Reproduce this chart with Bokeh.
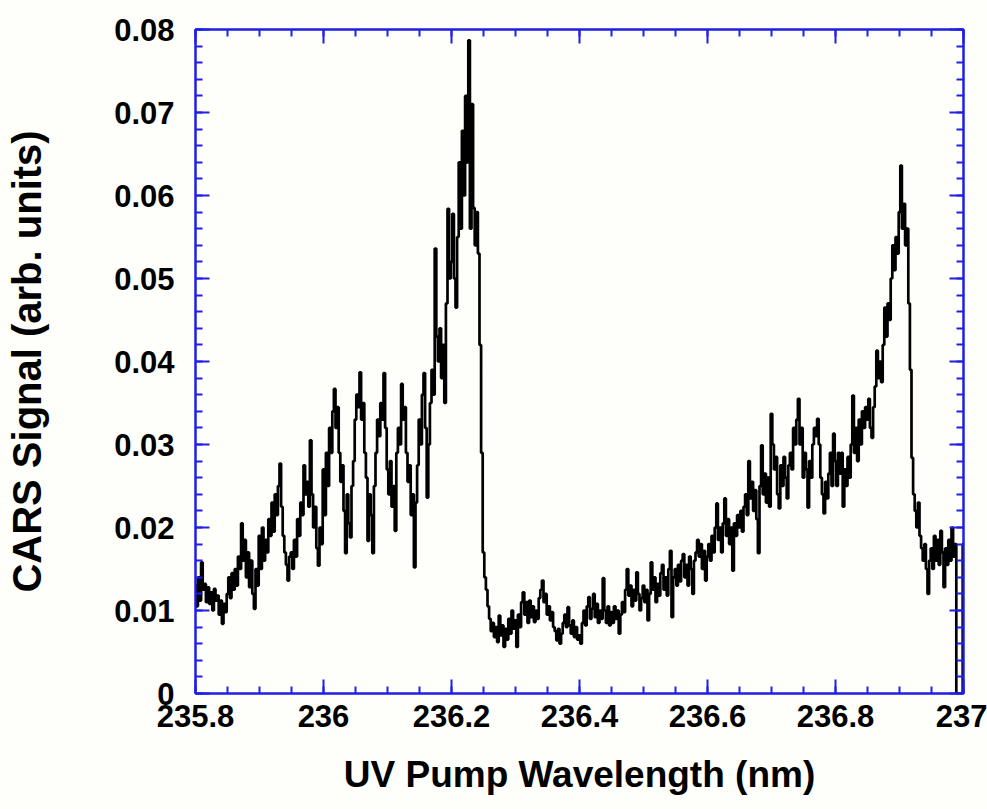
import numpy as np
from bokeh.plotting import figure
from bokeh.models import (Range1d, FixedTicker, LinearAxis, CustomJSTickFormatter)
from bokeh.embed import file_html
from bokeh.resources import INLINE

# CARS signal (arb. units), sampled uniformly from 235.8 nm to 237.0 nm
signal = [
    0.0130, 0.0105, 0.0140, 0.0112, 0.0158, 0.0125, 0.0132, 0.0110, 0.0128, 0.0108, 0.0122, 0.0100, 0.0126, 0.0112, 0.0118, 0.0095, 0.0112, 0.0084, 0.0108, 0.0098,
    0.0120, 0.0140, 0.0115, 0.0145, 0.0125, 0.0150, 0.0130, 0.0165, 0.0150, 0.0205, 0.0160, 0.0185, 0.0140, 0.0170, 0.0128, 0.0160, 0.0120, 0.0102, 0.0150, 0.0130,
    0.0190, 0.0150, 0.0200, 0.0160, 0.0185, 0.0170, 0.0210, 0.0190, 0.0230, 0.0195, 0.0240, 0.0215, 0.0250, 0.0277, 0.0225, 0.0190, 0.0170, 0.0155, 0.0136, 0.0165,
    0.0170, 0.0150, 0.0185, 0.0165, 0.0210, 0.0190, 0.0230, 0.0215, 0.0275, 0.0240, 0.0255, 0.0225, 0.0305, 0.0240, 0.0200, 0.0225, 0.0175, 0.0154, 0.0200, 0.0180,
    0.0270, 0.0215, 0.0290, 0.0250, 0.0320, 0.0290, 0.0340, 0.0367, 0.0320, 0.0345, 0.0290, 0.0255, 0.0275, 0.0220, 0.0169, 0.0240, 0.0205, 0.0188, 0.0250, 0.0280,
    0.0330, 0.0360, 0.0345, 0.0387, 0.0330, 0.0350, 0.0290, 0.0260, 0.0184, 0.0240, 0.0215, 0.0169, 0.0250, 0.0290, 0.0330, 0.0310, 0.0350, 0.0330, 0.0386, 0.0320,
    0.0270, 0.0240, 0.0280, 0.0225, 0.0250, 0.0196, 0.0290, 0.0320, 0.0300, 0.0373, 0.0330, 0.0345, 0.0290, 0.0255, 0.0275, 0.0215, 0.0240, 0.0152, 0.0230, 0.0275,
    0.0330, 0.0300, 0.0360, 0.0386, 0.0320, 0.0236, 0.0300, 0.0350, 0.0390, 0.0360, 0.0536, 0.0430, 0.0400, 0.0440, 0.0380, 0.0420, 0.0350, 0.0470, 0.0584, 0.0500,
    0.0520, 0.0578, 0.0500, 0.0465, 0.0550, 0.0640, 0.0560, 0.0678, 0.0600, 0.0720, 0.0640, 0.0787, 0.0560, 0.0710, 0.0585, 0.0540, 0.0580, 0.0530, 0.0420, 0.0290,
    0.0170, 0.0140, 0.0125, 0.0105, 0.0090, 0.0075, 0.0085, 0.0068, 0.0080, 0.0062, 0.0094, 0.0070, 0.0082, 0.0056, 0.0078, 0.0065, 0.0090, 0.0072, 0.0100, 0.0078,
    0.0088, 0.0056, 0.0095, 0.0080, 0.0110, 0.0122, 0.0095, 0.0110, 0.0085, 0.0112, 0.0092, 0.0105, 0.0086, 0.0100, 0.0090, 0.0115, 0.0125, 0.0136, 0.0110, 0.0120,
    0.0095, 0.0105, 0.0088, 0.0098, 0.0080, 0.0075, 0.0064, 0.0078, 0.0060, 0.0072, 0.0085, 0.0095, 0.0080, 0.0104, 0.0082, 0.0072, 0.0088, 0.0068, 0.0080, 0.0065,
    0.0070, 0.0060, 0.0085, 0.0100, 0.0082, 0.0105, 0.0116, 0.0090, 0.0102, 0.0120, 0.0092, 0.0108, 0.0085, 0.0100, 0.0090, 0.0139, 0.0100, 0.0085, 0.0105, 0.0082,
    0.0098, 0.0085, 0.0105, 0.0090, 0.0100, 0.0072, 0.0095, 0.0110, 0.0098, 0.0125, 0.0150, 0.0118, 0.0130, 0.0105, 0.0125, 0.0112, 0.0146, 0.0120, 0.0100, 0.0115,
    0.0130, 0.0110, 0.0125, 0.0088, 0.0120, 0.0158, 0.0125, 0.0140, 0.0110, 0.0132, 0.0118, 0.0145, 0.0155, 0.0125, 0.0140, 0.0118, 0.0150, 0.0172, 0.0092, 0.0140,
    0.0150, 0.0130, 0.0155, 0.0135, 0.0160, 0.0168, 0.0140, 0.0155, 0.0130, 0.0165, 0.0150, 0.0120, 0.0160, 0.0170, 0.0185, 0.0165, 0.0180, 0.0150, 0.0172, 0.0136,
    0.0165, 0.0180, 0.0160, 0.0190, 0.0170, 0.0200, 0.0229, 0.0185, 0.0200, 0.0170, 0.0205, 0.0235, 0.0190, 0.0210, 0.0180, 0.0200, 0.0148, 0.0205, 0.0190, 0.0215,
    0.0200, 0.0220, 0.0195, 0.0225, 0.0240, 0.0215, 0.0280, 0.0235, 0.0255, 0.0220, 0.0245, 0.0210, 0.0169, 0.0250, 0.0299, 0.0240, 0.0265, 0.0230, 0.0260, 0.0225,
    0.0337, 0.0300, 0.0270, 0.0285, 0.0240, 0.0223, 0.0275, 0.0250, 0.0285, 0.0260, 0.0235, 0.0275, 0.0290, 0.0270, 0.0320, 0.0300, 0.0330, 0.0355, 0.0300, 0.0320,
    0.0260, 0.0290, 0.0270, 0.0224, 0.0280, 0.0260, 0.0300, 0.0320, 0.0310, 0.0331, 0.0300, 0.0260, 0.0240, 0.0217, 0.0255, 0.0235, 0.0265, 0.0290, 0.0250, 0.0313,
    0.0280, 0.0250, 0.0290, 0.0265, 0.0290, 0.0225, 0.0270, 0.0250, 0.0285, 0.0260, 0.0300, 0.0359, 0.0290, 0.0320, 0.0280, 0.0330, 0.0300, 0.0340, 0.0320, 0.0345,
    0.0330, 0.0355, 0.0320, 0.0308, 0.0345, 0.0370, 0.0413, 0.0380, 0.0400, 0.0375, 0.0420, 0.0465, 0.0430, 0.0470, 0.0450, 0.0500, 0.0540, 0.0510, 0.0550, 0.0530,
    0.0580, 0.0636, 0.0560, 0.0590, 0.0540, 0.0560, 0.0470, 0.0390, 0.0284, 0.0240, 0.0220, 0.0200, 0.0230, 0.0190, 0.0175, 0.0160, 0.0180, 0.0150, 0.0120, 0.0160,
    0.0175, 0.0150, 0.0190, 0.0160, 0.0185, 0.0155, 0.0196, 0.0170, 0.0128, 0.0175, 0.0155, 0.0185, 0.0160, 0.0200, 0.0165, 0.0180, 0.0000, 0.0000, 0.0000, 0.0000,
    0.0180,
]
wavelength = np.linspace(235.8, 237.0, len(signal))

x_ticks = [235.8, 236.0, 236.2, 236.4, 236.6, 236.8, 237.0]
x_tick_labels = ["235.8", "236", "236.2", "236.4", "236.6", "236.8", "237"]
y_ticks = [0.0, 0.01, 0.02, 0.03, 0.04, 0.05, 0.06, 0.07, 0.08]
y_tick_labels = ["0", "0.01", "0.02", "0.03", "0.04", "0.05", "0.06", "0.07", "0.08"]
x_label = "UV Pump Wavelength (nm)"
y_label = "CARS Signal (arb. units)"

BG = "#fefefb"
AX = "#1f1fe6"
FONT = "Liberation Sans"

p = figure(output_backend="svg", toolbar_location=None,
           frame_width=768, frame_height=664,
           x_range=Range1d(235.8, 237.0), y_range=Range1d(0, 0.08),
           x_axis_location=None, y_axis_location=None,
           background_fill_color=BG, border_fill_color=BG,
           min_border_left=195, min_border_right=24,
           min_border_top=29, min_border_bottom=116)
p.grid.visible = False
p.outline_line_color = AX
p.outline_line_width = 2

x_minor = list(np.round(np.arange(235.8, 237.0001, 0.05), 4))
y_minor = list(np.round(np.arange(0, 0.08001, 0.002), 4))
xt = FixedTicker(ticks=x_ticks, minor_ticks=x_minor)
yt = FixedTicker(ticks=y_ticks, minor_ticks=y_minor)


def style(ax):
    ax.axis_line_color = AX
    ax.axis_line_width = 2
    ax.major_tick_line_color = AX
    ax.minor_tick_line_color = AX
    ax.major_tick_line_width = 2
    ax.minor_tick_line_width = 2
    ax.major_tick_in = 14
    ax.major_tick_out = 0
    ax.minor_tick_in = 7
    ax.minor_tick_out = 0
    ax.major_label_text_font = FONT
    ax.major_label_text_font_style = "bold"
    ax.major_label_text_color = "black"
    ax.axis_label_text_font = FONT
    ax.axis_label_text_font_style = "bold"
    ax.axis_label_text_color = "black"


bottom = LinearAxis(ticker=xt, axis_label=x_label,
                    major_label_overrides=dict(zip(x_ticks, x_tick_labels)))
style(bottom)
bottom.major_label_text_font_size = "31px"
bottom.axis_label_text_font_size = "37px"
bottom.major_label_standoff = 11
bottom.axis_label_standoff = 24
p.add_layout(bottom, "below")

left = LinearAxis(ticker=yt, axis_label=y_label,
                  major_label_overrides=dict(zip(y_ticks, y_tick_labels)))
style(left)
left.major_label_text_font_size = "31px"
left.axis_label_text_font_size = "40px"
left.major_label_standoff = 21
left.axis_label_standoff = 62
p.add_layout(left, "left")

blank = CustomJSTickFormatter(code="return ''")
top = LinearAxis(ticker=xt, formatter=blank)
style(top)
top.major_label_standoff = 0
p.add_layout(top, "above")
right = LinearAxis(ticker=yt, formatter=blank)
style(right)
right.major_label_standoff = 0
p.add_layout(right, "right")

p.step(wavelength, signal, mode="center", line_color="black", line_width=2.7)

open("out.html", "w").write(file_html(p, INLINE))
